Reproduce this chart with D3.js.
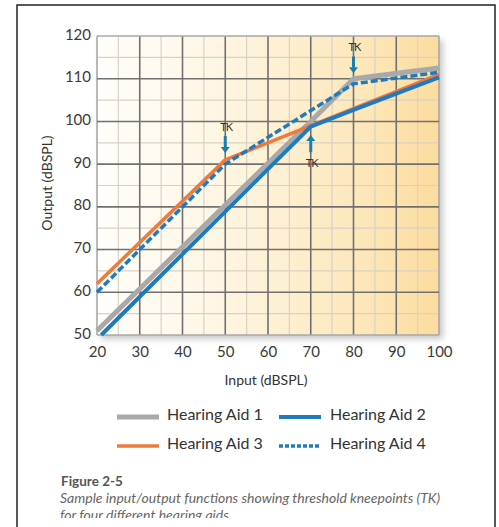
<!DOCTYPE html>
<html><head><meta charset="utf-8">
<script src="https://cdn.jsdelivr.net/npm/d3@7"></script>
<style>
html,body{margin:0;padding:0;background:#fff;}
svg{display:block;}
</style></head>
<body>
<svg id="c" width="499" height="527"></svg>
<script>
// ---- data ----
const xTicks = [20,30,40,50,60,70,80,90,100];
const yTicks = [50,60,70,80,90,100,110,120];
const aid1 = [[20,51],[70,100],[80,110],[100,112.5]];
const aid2 = [[21,50],[70,98.8],[80,102.7],[100,110.3]];
const aid3 = [[20,62],[50,91],[100,111]];
const aid4 = [[20,60],[50,90],[80,108.8],[100,111.5]];
const seriesNames = ["Hearing Aid 1","Hearing Aid 2","Hearing Aid 3","Hearing Aid 4"];
// TK annotations: x, text value, arrow tail value, arrow tip value
const tkX = [50,70,80];
const tkText = [98.7,90.3,117.5];
const tkTail = [96.6,92.8,115.2];
const tkTip = [92.6,96.8,111.3];
const xTitle = "Input (dBSPL)";
const yTitle = "Output (dBSPL)";
const figTitle = "Figure 2-5";
const captionLines = ["Sample input/output functions showing threshold kneepoints (TK)","for four different hearing aids."];

// ---- layout ----
const svg = d3.select("#c");
const L=97, R=439, T=36, B=335;
const x = d3.scaleLinear().domain([20,100]).range([L,R]);
const y = d3.scaleLinear().domain([50,120]).range([B,T]);
const font = "Lato, 'Open Sans', sans-serif";

const defs = svg.append("defs");
const g = defs.append("linearGradient").attr("id","bg").attr("x1","0").attr("x2","1").attr("y1","0").attr("y2","0");
g.append("stop").attr("offset","0").attr("stop-color","#fffefb");
g.append("stop").attr("offset","0.35").attr("stop-color","#fef6e4");
g.append("stop").attr("offset","0.75").attr("stop-color","#fde8bd");
g.append("stop").attr("offset","1").attr("stop-color","#fcdc9e");
const f = defs.append("filter").attr("id","sh").attr("x","-5%").attr("y","-5%").attr("width","115%").attr("height","115%");
f.append("feDropShadow").attr("dx",4).attr("dy",4).attr("stdDeviation",3).attr("flood-color","#000").attr("flood-opacity",0.22);

// outer frame
svg.append("rect").attr("x",17).attr("y",5).attr("width",478).attr("height",540)
  .attr("fill","#fff").attr("stroke","#222").attr("stroke-width",1.5);

// plot background
svg.append("rect").attr("x",L).attr("y",T).attr("width",R-L).attr("height",B-T)
  .attr("fill","url(#bg)").attr("filter","url(#sh)");

// minor grid
const minorX = d3.range(25,100,10), minorY = d3.range(55,120,10);
svg.append("g").selectAll("line").data(minorX).join("line")
  .attr("x1",d=>x(d)).attr("x2",d=>x(d)).attr("y1",T).attr("y2",B)
  .attr("stroke","#d9d2c4").attr("stroke-width",1.2);
svg.append("g").selectAll("line").data(minorY).join("line")
  .attr("y1",d=>y(d)).attr("y2",d=>y(d)).attr("x1",L).attr("x2",R)
  .attr("stroke","#d9d2c4").attr("stroke-width",1.2);
// major grid
svg.append("g").selectAll("line").data(xTicks).join("line")
  .attr("x1",d=>x(d)).attr("x2",d=>x(d)).attr("y1",T).attr("y2",B)
  .attr("stroke",d=>(d===20||d===100)?"#a9a9a9":"#707070").attr("stroke-width",1.6);
svg.append("g").selectAll("line").data(yTicks).join("line")
  .attr("y1",d=>y(d)).attr("y2",d=>y(d)).attr("x1",L).attr("x2",R)
  .attr("stroke",d=>(d===50||d===120)?"#a9a9a9":"#707070").attr("stroke-width",1.6);

// axes labels via d3 axes (no domain/ticks lines)
const ax = svg.append("g").attr("transform",`translate(0,${B})`)
  .call(d3.axisBottom(x).tickValues(xTicks).tickSize(0).tickPadding(11));
ax.select(".domain").remove();
ax.selectAll("text").attr("font-family",font).attr("font-size",15).attr("fill","#3a3a3a");
const ay = svg.append("g").attr("transform",`translate(${L},0)`)
  .call(d3.axisLeft(y).tickValues(yTicks).tickSize(0).tickPadding(6));
ay.select(".domain").remove();
ay.selectAll("text").attr("font-family",font).attr("font-size",15).attr("fill","#3a3a3a").attr("dy","0.2em");

svg.append("text").attr("x",266).attr("y",385).attr("text-anchor","middle")
  .attr("font-family",font).attr("font-size",14).attr("fill","#333").text(xTitle);
svg.append("text").attr("transform",`translate(52,183) rotate(-90)`).attr("text-anchor","middle")
  .attr("font-family",font).attr("font-size",14).attr("fill","#333").text(yTitle);

// lines
const line = d3.line().x(d=>x(d[0])).y(d=>y(d[1]));
const blue="#1f7bbd", orange="#ef7a3c", gray="#a9a9a9";
const styles = [
  {data:aid1,color:gray,w:5,dash:null},
  {data:aid2,color:blue,w:4,dash:null},
  {data:aid3,color:orange,w:3.5,dash:null},
  {data:aid4,color:blue,w:3.5,dash:"7,3"}
];
const order=[0,2,1,3];
order.forEach(i=>{
  const s=styles[i];
  svg.append("path").datum(s.data).attr("d",line).attr("fill","none")
    .attr("stroke",s.color).attr("stroke-width",s.w).attr("stroke-dasharray",s.dash)
    .attr("stroke-linejoin","round");
});

// TK annotations
const arrowColor="#1a7fb0";
tkX.forEach((xv,i)=>{
  const xp=x(xv), tail=y(tkTail[i]), tip=y(tkTip[i]);
  const dir = tip>tail?1:-1;
  const headLen=6;
  svg.append("line").attr("x1",xp).attr("x2",xp).attr("y1",tail).attr("y2",tip-dir*headLen)
    .attr("stroke",arrowColor).attr("stroke-width",3);
  svg.append("path").attr("d",`M${xp-4.5},${tip-dir*headLen}L${xp+4.5},${tip-dir*headLen}L${xp},${tip}Z`)
    .attr("fill",arrowColor);
  svg.append("text").attr("x",xp+1).attr("y",y(tkText[i])).attr("dy","0.35em").attr("text-anchor","middle")
    .attr("font-family",font).attr("font-size",11).attr("fill","#333").attr("letter-spacing","-0.8")
    .text("TK");
});

// legend
const legX=[117,279], legTextX=[167,330], legY=[417,446];
seriesNames.forEach((n,i)=>{
  const col=i%2,row=Math.floor(i/2),s=styles[i];
  svg.append("line").attr("x1",legX[col]).attr("x2",legX[col]+42).attr("y1",legY[row]).attr("y2",legY[row])
    .attr("stroke",s.color).attr("stroke-width",s.w).attr("stroke-dasharray",s.dash?"4,2":null);
  svg.append("text").attr("x",legTextX[col]).attr("y",legY[row]-3).attr("dy","0.36em")
    .attr("font-family",font).attr("font-size",16).attr("fill","#333").text(n);
});

// caption
svg.append("text").attr("x",61).attr("y",486).attr("font-family",font).attr("font-weight","bold")
  .attr("font-size",13.5).attr("fill","#555").text(figTitle);
captionLines.forEach((t,i)=>{
  svg.append("text").attr("x",60).attr("y",503+i*17).attr("font-family",font).attr("font-style","italic")
    .attr("font-size",14).attr("fill","#666").text(t);
});
svg.append("rect").attr("x",18).attr("y",518).attr("width",476).attr("height",12).attr("fill","#fff");
</script>
</body></html>
